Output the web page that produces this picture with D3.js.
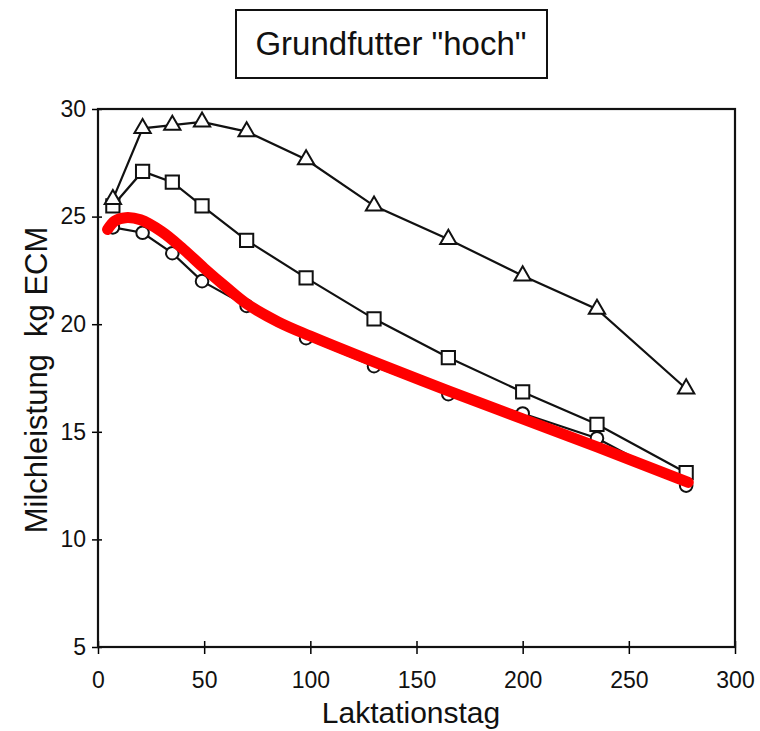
<!DOCTYPE html>
<html>
<head>
<meta charset="utf-8">
<script src="https://cdn.jsdelivr.net/npm/d3@7"></script>
<style>
  body { margin: 0; background: #fff; }
  text { font-family: "Liberation Sans", Arial, sans-serif; fill: #111; }
</style>
</head>
<body>
<div id="chart"></div>
<script>
const WIDTH = 760;
const HEIGHT = 731;

// days in lactation
const days = [7, 21, 35, 49, 70, 98, 130, 165, 200, 235, 277];
// milk yield, kg ECM
const triangleSeries = [25.8, 29.1, 29.25, 29.4, 28.95, 27.65, 25.5, 23.95, 22.25, 20.7, 17.0];
const squareSeries = [25.5, 27.1, 26.6, 25.5, 23.9, 22.15, 20.25, 18.45, 16.85, 15.35, 13.1];
const circleSeries = [24.5, 24.25, 23.3, 22.0, 20.85, 19.35, 18.05, 16.75, 15.85, 14.7, 12.5];
// fitted curve (red)
const fitDays = [4.5, 8, 13, 20, 30, 40, 50, 60, 70, 85, 100, 130, 165, 200, 235, 278];
const fitValues = [24.4, 24.8, 24.95, 24.85, 24.3, 23.5, 22.6, 21.75, 20.95, 20.1, 19.45, 18.25, 16.9, 15.6, 14.3, 12.65];

const xTicks = [0, 50, 100, 150, 200, 250, 300];
const yTicks = [5, 10, 15, 20, 25, 30];
const title = 'Grundfutter "hoch"';
const xTitle = "Laktationstag";
const yTitle = "Milchleistung\u00a0\u00a0kg ECM";

const svg = d3.select("#chart").append("svg")
  .attr("width", WIDTH)
  .attr("height", HEIGHT);

const x = d3.scaleLinear().domain([0, 300]).range([98, 735]);
const y = d3.scaleLinear().domain([5, 30]).range([647, 109]);

// title box
svg.append("rect")
  .attr("x", 236).attr("y", 10)
  .attr("width", 311).attr("height", 68)
  .attr("fill", "none").attr("stroke", "#111").attr("stroke-width", 2);
svg.append("text")
  .attr("x", 391).attr("y", 55)
  .attr("text-anchor", "middle")
  .attr("font-size", 33)
  .text(title);

// axes
const xAxis = svg.append("g")
  .attr("transform", `translate(0,${y(5)})`)
  .call(d3.axisBottom(x).tickValues(xTicks).tickSize(7).tickPadding(18));
const yAxis = svg.append("g")
  .attr("transform", `translate(${x(0)},0)`)
  .call(d3.axisLeft(y).tickValues(yTicks).tickSize(6).tickPadding(6));

xAxis.selectAll(".tick line").attr("y1", -6).attr("stroke-width", 1.5);
yAxis.selectAll(".tick line").attr("x1", 4).attr("stroke-width", 1.5);
xAxis.select(".domain").remove();
yAxis.select(".domain").remove();
svg.selectAll(".tick text")
  .attr("font-size", 23)
  .attr("font-family", "Liberation Sans, Arial, sans-serif")
  .attr("fill", "#111");

// frame
svg.append("rect")
  .attr("x", x(0)).attr("y", y(30))
  .attr("width", x(300) - x(0)).attr("height", y(5) - y(30))
  .attr("fill", "none").attr("stroke", "#111").attr("stroke-width", 2.2);

// axis titles
svg.append("text")
  .attr("x", 411).attr("y", 723)
  .attr("text-anchor", "middle")
  .attr("font-size", 30)
  .text(xTitle);
svg.append("text")
  .attr("transform", "translate(47,380) rotate(-90)")
  .attr("text-anchor", "middle")
  .attr("font-size", 31)
  .text(yTitle);

const line = d3.line()
  .x(d => x(d[0]))
  .y(d => y(d[1]));

function drawSeries(values, shape) {
  const pts = days.map((d, i) => [d, values[i]]);
  svg.append("path")
    .datum(pts)
    .attr("d", line)
    .attr("fill", "none")
    .attr("stroke", "#111")
    .attr("stroke-width", 2.2);
  svg.append("g").selectAll("path")
    .data(pts)
    .enter().append("path")
    .attr("transform", d => `translate(${x(d[0])},${y(d[1])})`)
    .attr("d", d3.symbol().type(shape.type).size(shape.size))
    .attr("fill", "#fff")
    .attr("stroke", "#111")
    .attr("stroke-width", 2);
}

drawSeries(circleSeries, { type: d3.symbolCircle, size: 125 });
drawSeries(squareSeries, { type: d3.symbolSquare, size: 175 });
drawSeries(triangleSeries, { type: d3.symbolTriangle, size: 115 });

// red fitted curve
svg.append("path")
  .datum(fitDays.map((d, i) => [d, fitValues[i]]))
  .attr("d", d3.line().x(d => x(d[0])).y(d => y(d[1])).curve(d3.curveCatmullRom.alpha(0.5)))
  .attr("fill", "none")
  .attr("stroke", "#ff0000")
  .attr("stroke-width", 11)
  .attr("stroke-linecap", "round");
</script>
</body>
</html>
